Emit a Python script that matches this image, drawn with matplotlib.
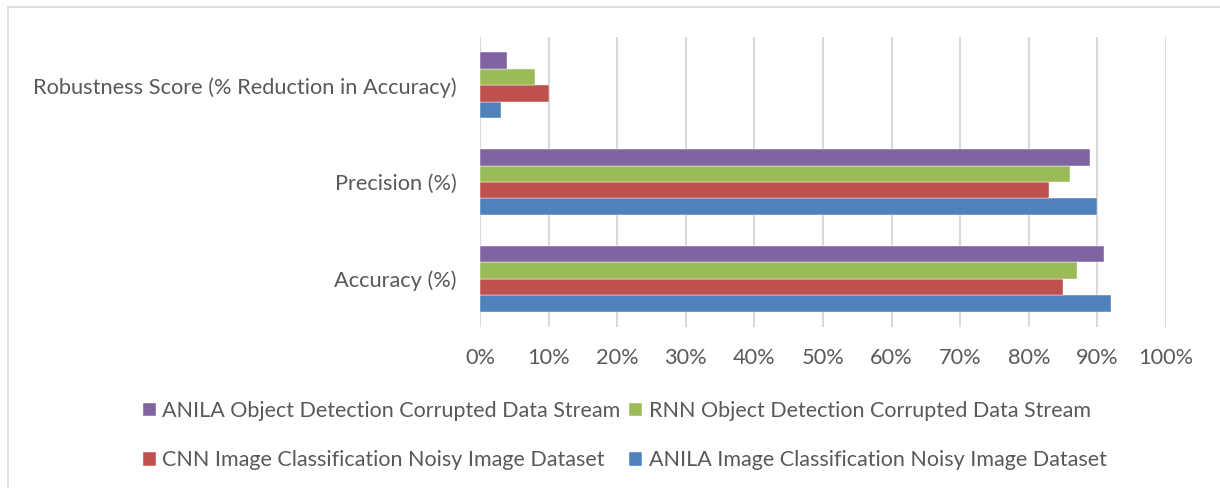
import matplotlib.pyplot as plt
import numpy as np
from matplotlib.patches import Rectangle
from matplotlib.ticker import PercentFormatter

categories = ["Accuracy (%)", "Precision (%)", "Robustness Score (% Reduction in Accuracy)"]

anila_img = [92, 90, 3]
cnn_img = [85, 83, 10]
rnn_obj = [87, 86, 8]
anila_obj = [91, 89, 4]

series_names = [
    "ANILA Image Classification Noisy Image Dataset",
    "CNN Image Classification Noisy Image Dataset",
    "RNN Object Detection Corrupted Data Stream",
    "ANILA Object Detection Corrupted Data Stream",
]
colors = ["#4F81BD", "#C0504D", "#9BBB59", "#8064A2"]

plt.rcParams["font.family"] = ["Lato", "DejaVu Sans"]

fig = plt.figure(figsize=(12.2, 4.88), dpi=100)
ax = fig.add_axes([0.3934, 0.3299, 0.5623, 0.5943])

# chart border
fig.patches.append(Rectangle((8 / 1220, -0.01), 1.02, 1 - 7 / 488 + 0.01,
                             transform=fig.transFigure, fill=False,
                             edgecolor="#D9D9D9", linewidth=1.2))

y = np.arange(len(categories))
h = 0.17
data = [anila_img, cnn_img, rnn_obj, anila_obj]
bars = []
for i, (vals, c, name) in enumerate(zip(data, colors, series_names)):
    b = ax.barh(y + (i - 1.5) * h, np.array(vals) / 100, height=h, color=c,
                edgecolor="white", linewidth=0.3, label=name, zorder=3)
    bars.append(b)

ax.set_xlim(0, 1)
ax.set_ylim(-0.5, 2.5)
ax.set_xticks(np.arange(0, 1.01, 0.1))
ax.xaxis.set_major_formatter(PercentFormatter(1.0, decimals=0))
ax.set_yticks(y)
ax.set_yticklabels(categories)
ax.grid(axis="x", color="#D9D9D9", linewidth=1.5, zorder=0)
for s in ax.spines.values():
    s.set_visible(False)
ax.tick_params(length=0, labelsize=15.7, labelcolor="#595959")
ax.tick_params(axis="x", pad=15)
ax.tick_params(axis="y", pad=17)

order = [3, 1, 2, 0]
fig.legend([bars[i] for i in order], [series_names[i] for i in order],
           ncol=2, loc="center", bbox_to_anchor=(0.512, 0.107), frameon=False,
           fontsize=15.5, labelcolor="#595959", handlelength=0.6, handleheight=0.6,
           handletextpad=0.3, columnspacing=0.4, labelspacing=1.35)

fig.savefig("out.png", dpi=100)
